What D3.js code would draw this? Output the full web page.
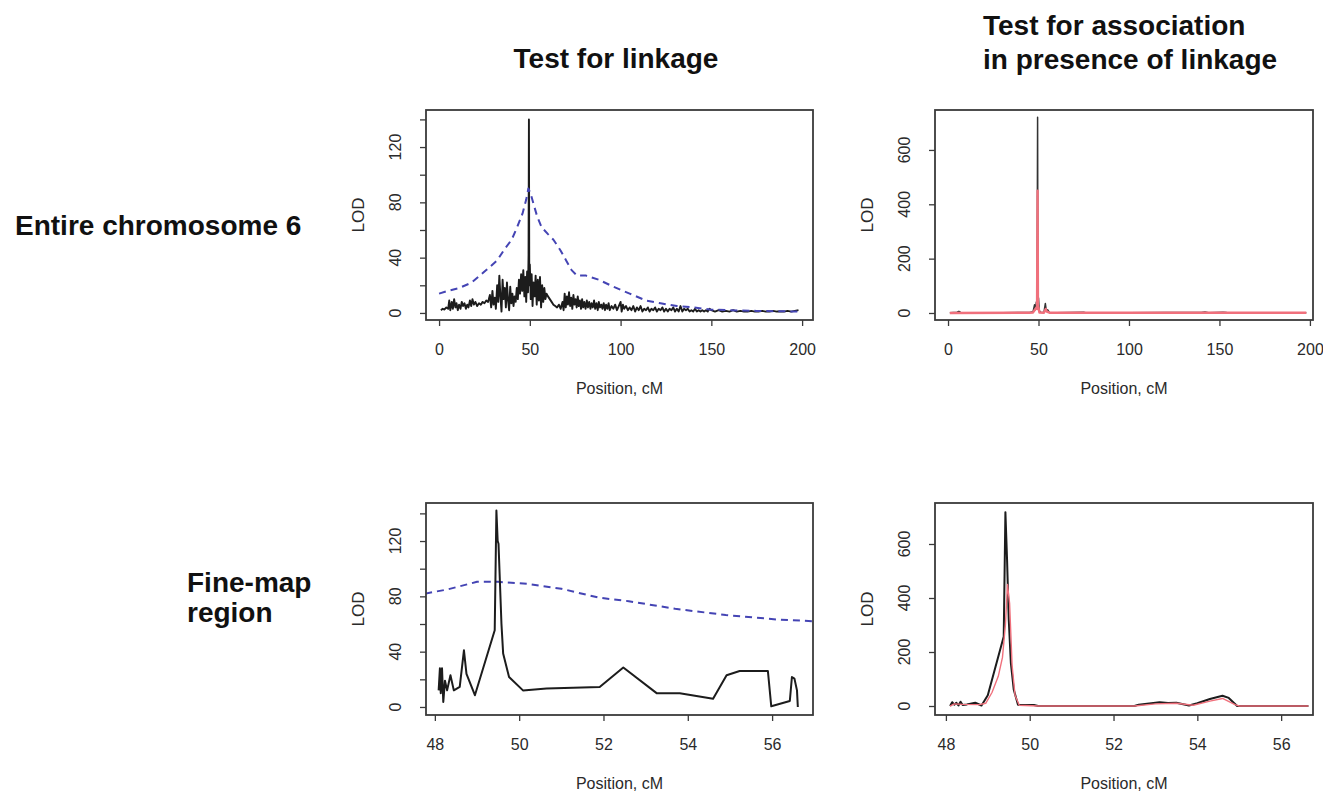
<!DOCTYPE html>
<html>
<head>
<meta charset="utf-8">
<script src="https://cdn.jsdelivr.net/npm/d3@7"></script>
<style>
  body { margin: 0; background: #fff; }
  svg text { font-family: "Liberation Sans", Arial, sans-serif; }
</style>
</head>
<body>
<svg id="fig" width="1323" height="792"></svg>
<script>
// ---- data: [position cM, LOD] ----
const linkChr = [
  [1,2],[2,3],[3,2.5],[4,4],[5,3],[5.6,9],[6.2,2],[7,8],[7.6,3],[8.3,10],[9,4],[9.6,7],[10.3,2],[11,6],[11.8,3],[12.5,8],
  [13.2,5],[14,7],[14.8,3],[15.5,6],[16.2,4],[17,9],[17.7,5],[18.4,10],[19.2,6],[20,8],[21,5],[22,7],[23,6],[24,8],[25,7],
  [26,9],[27,8],[28,13],[28.7,4],[29.4,16],[30,6],[30.7,11],[31.3,3],[32,20],[32.6,8],[33.2,27],[33.8,12],[34.4,1],[35,24],
  [35.6,10],[36.2,18],[36.8,4],[37.4,22],[38,9],[38.6,2],[39.2,19],[39.8,7],[40.4,14],[41,5],[41.6,12],[42.2,8],[42.8,18],
  [43.4,10],[44,24],[44.6,14],[45.2,28],[45.8,16],[46.4,31],[47,12],[47.5,26],[48,8],[48.5,30],[49,15],[49.3,42],[49.5,140],
  [49.7,20],[50,35],[50.5,10],[51,28],[51.5,5],[52,22],[52.6,12],[53.2,27],[53.8,6],[54.4,24],[55,9],[55.6,26],[56.2,4],
  [56.8,20],[57.4,8],[58,18],[58.6,10],[59.2,14],[60,12],[61,10],[62,8],[63,6],[64,5],[65,4],[66,6],[67,3],[68,8],[68.6,2],
  [69.2,14],[69.8,4],[70.4,12],[71,6],[71.6,15],[72.2,5],[72.8,11],[73.4,3],[74,13],[74.6,6],[75.2,10],[75.8,4],[76.4,12],
  [77,5],[77.6,9],[78.2,3],[78.8,10],[79.4,4],[80,8],[80.7,3],[81.4,9],[82,4],[82.7,8],[83.4,3],[84,7],[84.7,4],[85.4,9],
  [86,3],[86.7,7],[87.4,2],[88,8],[88.7,4],[89.4,6],[90,3],[90.7,7],[91.4,2],[92,6],[92.7,3],[93.4,7],[94,2],[95,5],[96,3],
  [97,6],[98,2],[99,5],[100,8],[100.6,1],[101.3,6],[102,3],[103,5],[104,2],[105,4],[106,2],[107,5],[108,1],[109,4],[110,2],
  [111,5],[112,1],[113,3],[114,2],[115,4],[116,1],[117,3],[118,2],[119,4],[120,1],[121,3],[122,2],[123,4],[124,1],[125,3],
  [126,1],[127,3],[128,2],[129,4],[130,1],[131,3],[132,1],[133,5],[134,1],[135,3],[136,2],[137,3],[138,1],[139,2],[140,1],
  [141,3],[142,1],[143,2],[144,1],[145,2],[146,1],[147,2],[148,1],[149,3],[150,2],[152,1],[154,2],[156,1],[158,1.5],[160,1],
  [162,2],[164,1],[166,1.5],[168,1],[170,1],[172,1.5],[174,1],[176,1],[178,1.5],[180,1],[182,1],[184,1.5],[186,1],[188,1],
  [190,1],[192,1.5],[194,1],[196,1.5],[198,2]
];
const linkChrThr = [
  [0,14],[5,16],[11,18],[18,22],[26,31],[32,38],[36,46],[40,53],[43,62],[46,72],[48,82],[49.2,90],[50.5,86],[52,79],[54,70],
  [56.5,62],[60,57],[63,53],[67,45],[70,38],[73,31],[76,27],[81,27],[88,24],[96,19],[105,14],[114,9],[122,7],[131,5],
  [140,4],[149,2.5],[160,2],[175,1.5],[198,1]
];
const assocChr = [
  [1,1],[5,3],[6,6],[7,2],[15,1],[30,1],[45,2],[47,5],[47.8,30],[48.3,12],[48.8,40],[49.2,25],[49.5,720],[49.7,50],[50,55],
  [50.4,10],[51,3],[53,2],[53.8,35],[54.3,8],[55,12],[56,2],[60,1],[75,3],[76,1],[100,1],[120,2],[140,2],[142,4],[144,1],
  [152,3],[154,2],[170,1],[198,1]
];
const assocChrRed = [
  [1,0],[45,1],[47,2],[48,12],[48.8,20],[49.2,15],[49.5,450],[49.7,25],[50,20],[50.5,2],[53,1],[54,15],[54.6,5],[56,1],
  [100,1],[198,1]
];
const linkFine = [
  [48.09,12],[48.12,28],[48.14,10],[48.17,28],[48.2,3.6],[48.24,19],[48.29,12],[48.37,23],[48.45,12],[48.59,14.5],
  [48.69,41],[48.75,24],[48.95,8.5],[49.42,55.5],[49.46,142],[49.49,120],[49.51,118],[49.58,60],[49.62,38.6],[49.76,21.7],
  [50.09,12],[50.65,13.3],[51.91,14.5],[52.47,28.5],[53.26,10],[53.81,10],[54.6,6],[54.92,23],[55.23,26],[55.9,26],
  [55.98,0.5],[56.42,4.3],[56.47,21.7],[56.53,20.5],[56.59,12],[56.61,0]
];
const linkFineThr = [
  [47.77,82],[48.3,85],[49,90.5],[49.5,90.5],[50.2,89],[51,85.5],[51.9,79],[52.6,76.5],[53.7,71],[54.9,66.5],
  [56.1,63.3],[56.97,62]
];
const assocFine = [
  [48.1,0],[48.15,14],[48.2,5],[48.25,12],[48.3,2],[48.35,16],[48.4,4],[48.5,6],[48.7,12],[48.85,2],[49.0,40],[49.38,257],
  [49.42,718],[49.46,540],[49.5,320],[49.55,160],[49.62,60],[49.72,5],[49.8,4],[50.1,4],[50.2,0],[52.5,0],[52.6,5],
  [52.9,10],[53.1,14],[53.3,11],[53.5,12],[53.8,2],[54.0,10],[54.3,26],[54.6,38],[54.75,30],[54.95,0],[56.65,0]
];
const assocFineRed = [
  [48.1,0],[48.2,8],[48.4,6],[48.8,5],[48.95,10],[49.1,50],[49.25,110],[49.35,180],[49.42,300],[49.47,450],[49.52,380],
  [49.58,150],[49.65,40],[49.75,3],[50.2,0],[52.5,0],[53,8],[53.5,10],[53.9,3],[54.3,18],[54.6,28],[54.9,5],[55.0,0],
  [56.65,0]
];

const xTicksChr = [0, 50, 100, 150, 200];
const xTicksFine = [48, 50, 52, 54, 56];
const yTicksLink = [0, 20, 40, 60, 80, 100, 120, 140];
const yLabelsLink = [0, 40, 80, 120];
const yTicksAssoc = [0, 200, 400, 600];

const BLACK = "#1c1c1c", BLUE = "#4444b4", RED = "#f0707c", AXIS = "#3a3a3a";

const svg = d3.select("#fig");

// panels: box = [x0, y0, x1, y1] in px, xlim/ylim = axis limits at the box edges
const panels = [
  { id: "tl", box: [426, 110, 813, 320], xlim: [-7.2, 206], ylim: [-5.1, 146.8],
    xTicks: xTicksChr, yTicks: yTicksLink, yLabels: yLabelsLink,
    series: [
      { data: linkChr, color: BLACK, width: 1.9 },
      { data: linkChrThr, color: BLUE, width: 2, dash: "7,5" }
    ] },
  { id: "tr", box: [935, 110, 1313, 320], xlim: [-7.2, 201.7], ylim: [-25.8, 747],
    xTicks: xTicksChr, yTicks: yTicksAssoc, yLabels: yTicksAssoc,
    series: [
      { data: assocChr, color: "#333", width: 1.5 },
      { data: assocChrRed, color: RED, width: 2.4 }
    ] },
  { id: "bl", box: [426, 503, 813, 715], xlim: [47.79, 56.97], ylim: [-5.8, 147.5],
    xTicks: xTicksFine, yTicks: yTicksLink, yLabels: yLabelsLink,
    series: [
      { data: linkFineThr, color: BLUE, width: 2, dash: "7,5" },
      { data: linkFine, color: BLACK, width: 2 }
    ] },
  { id: "br", box: [935, 503, 1313, 715], xlim: [47.74, 56.76], ylim: [-33.3, 751.8],
    xTicks: xTicksFine, yTicks: yTicksAssoc, yLabels: yTicksAssoc,
    series: [
      { data: assocFine, color: BLACK, width: 2 },
      { data: assocFineRed, color: RED, width: 1.4 }
    ] }
];

panels.forEach(p => {
  const [x0, y0, x1, y1] = p.box;
  const x = d3.scaleLinear().domain(p.xlim).range([x0, x1]);
  const y = d3.scaleLinear().domain(p.ylim).range([y1, y0]);

  svg.append("clipPath").attr("id", "clip-" + p.id)
    .append("rect").attr("x", x0).attr("y", y0).attr("width", x1 - x0).attr("height", y1 - y0);

  const g = svg.append("g").attr("clip-path", `url(#clip-${p.id})`);
  const line = d3.line().x(d => x(d[0])).y(d => y(d[1]));

  p.series.forEach(s => {
    g.append("path")
      .datum(s.data)
      .attr("d", line)
      .attr("fill", "none")
      .attr("stroke", s.color)
      .attr("stroke-width", s.width)
      .attr("stroke-linejoin", "round")
      .attr("stroke-dasharray", s.dash || null);
  });

  // box
  svg.append("rect")
    .attr("x", x0).attr("y", y0).attr("width", x1 - x0).attr("height", y1 - y0)
    .attr("fill", "none").attr("stroke", AXIS).attr("stroke-width", 1.8);

  // x axis
  const xa = svg.append("g").attr("transform", `translate(0,${y1})`)
    .call(d3.axisBottom(x).tickValues(p.xTicks).tickSize(6).tickSizeOuter(0).tickFormat(d3.format("d")));
  xa.select(".domain").remove();
  xa.selectAll("line").attr("stroke", AXIS).attr("stroke-width", 1.3);
  xa.selectAll("text").attr("font-size", 16).attr("fill", "#2a2a2a").attr("y", 24);

  // y axis (ticks only, labels rotated like base R)
  const ya = svg.append("g").attr("transform", `translate(${x0},0)`)
    .call(d3.axisLeft(y).tickValues(p.yTicks).tickSize(6).tickSizeOuter(0).tickFormat(""));
  ya.select(".domain").remove();
  ya.selectAll("line").attr("stroke", AXIS).attr("stroke-width", 1.3);

  svg.append("g").selectAll("text")
    .data(p.yLabels)
    .join("text")
    .attr("transform", d => `translate(${x0 - 31},${y(d)}) rotate(-90)`)
    .attr("text-anchor", "middle")
    .attr("dy", "0.35em")
    .attr("font-size", 16)
    .attr("fill", "#2a2a2a")
    .text(d => d);

  // axis titles
  svg.append("text")
    .attr("x", (x0 + x1) / 2).attr("y", y1 + 74)
    .attr("text-anchor", "middle").attr("font-size", 16).attr("fill", "#2a2a2a")
    .text("Position, cM");
  svg.append("text")
    .attr("transform", `translate(${x0 - 68},${(y0 + y1) / 2}) rotate(-90)`)
    .attr("text-anchor", "middle").attr("dy", "0.35em")
    .attr("font-size", 17).attr("fill", "#2a2a2a")
    .text("LOD");
});

// headings
const head = (x, y, t, anchor) => svg.append("text")
  .attr("x", x).attr("y", y).attr("text-anchor", anchor || "start")
  .attr("font-size", 28).attr("font-weight", "bold").attr("fill", "#111")
  .text(t);

head(616, 68, "Test for linkage", "middle");
head(983, 35, "Test for association");
head(983, 69, "in presence of linkage");
head(15, 235, "Entire chromosome 6");
head(187, 592, "Fine-map");
head(187, 622, "region");
</script>
</body>
</html>
